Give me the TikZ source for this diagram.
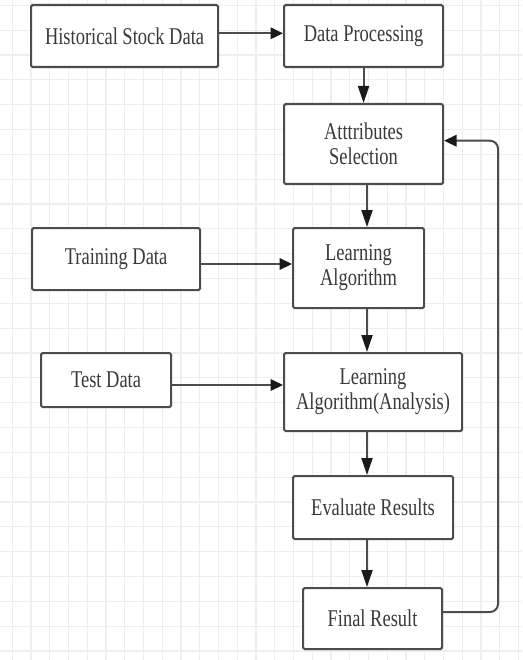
\documentclass[tikz,border=0pt]{standalone}
\usepackage{fontspec}
\setmainfont[FakeStretch=0.77]{Liberation Serif}
\usetikzlibrary{arrows.meta,calc}
\definecolor{ink}{HTML}{4C4C4C}
\definecolor{headc}{HTML}{1A1A1A}
\definecolor{txt}{HTML}{3A3A3A}
\definecolor{gridc}{HTML}{EEEEEE}

\begin{document}
\begin{tikzpicture}[x=1pt,y=-1pt,
  box/.style={draw=ink, line width=2.1pt, rounded corners=1.5pt, fill=white,
    text=txt, font=\fontsize{24}{25}\selectfont, align=center,
    inner sep=0pt, anchor=north west},
  link/.style={draw=ink, line width=2pt},
  varr/.style={link, -{Triangle[length=17pt,width=11pt,color=headc]}},
  harr/.style={link, -{Triangle[length=12.5pt,width=11.5pt,color=headc]}},
  gridline/.style={draw=gridc, line width=1.2pt}
]
% page and background grid
\fill[white] (0,0) rectangle (522,660);
\useasboundingbox (0,0) rectangle (522,660);
\foreach \i in {0,...,27} \draw[gridline] ({12.3+18.75*\i},0) -- ++(0,660);
\foreach \j in {0,...,26} \draw[gridline] (0,{5.4+24.83*\j}) -- ++(522,0);

% boxes
\node[box, minimum width=187pt, minimum height=62pt] (hist) at (30,4) {Historical Stock Data};
\node[box, minimum width=159pt, minimum height=62pt] (dp) at (283,4) {Data Processing};
\node[box, minimum width=159pt, minimum height=80pt] (attr) at (283,103) {Atttributes\\Selection};
\node[box, minimum width=168pt, minimum height=62pt] (train) at (31,227) {Training Data};
\node[box, minimum width=131pt, minimum height=80pt] (la) at (292,227) {Learning\\Algorithm};
\node[box, minimum width=130pt, minimum height=54pt] (test) at (40,352) {Test Data};
\node[box, minimum width=178pt, minimum height=78pt] (laa) at (283,352) {Learning\\Algorithm(Analysis)};
\node[box, minimum width=160pt, minimum height=63pt] (eval) at (292,475) {Evaluate Results};
\node[box, minimum width=139pt, minimum height=61pt] (final) at (302,587) {Final Result};

% helper coordinates
\coordinate (spine) at (367,0);
\coordinate (trainrow) at (0,264);
\coordinate (testrow) at (0,385);
\coordinate (histrow) at (0,33.3);
\coordinate (backrow) at (0,612);
\coordinate (toprow) at (0,140.7);
\coordinate (backcol) at (498,0);

% connectors
\draw[harr] (hist.east |- histrow) -- (dp.west |- histrow);
\draw[varr] (dp.south) -- (attr.north);
\draw[varr] (attr.south -| spine) -- (la.north -| spine);
\draw[harr] (train.east |- trainrow) -- (la.west |- trainrow);
\draw[varr] (la.south -| spine) -- (laa.north -| spine);
\draw[harr] (test.east |- testrow) -- (laa.west |- testrow);
\draw[varr] (laa.south -| spine) -- (eval.north -| spine);
\draw[varr] (eval.south -| spine) -- (final.north -| spine);
\draw[harr, rounded corners=8pt] (final.east |- backrow) -- (backcol |- backrow)
  -- (backcol |- toprow) -- (attr.east |- toprow);
\end{tikzpicture}
\end{document}
